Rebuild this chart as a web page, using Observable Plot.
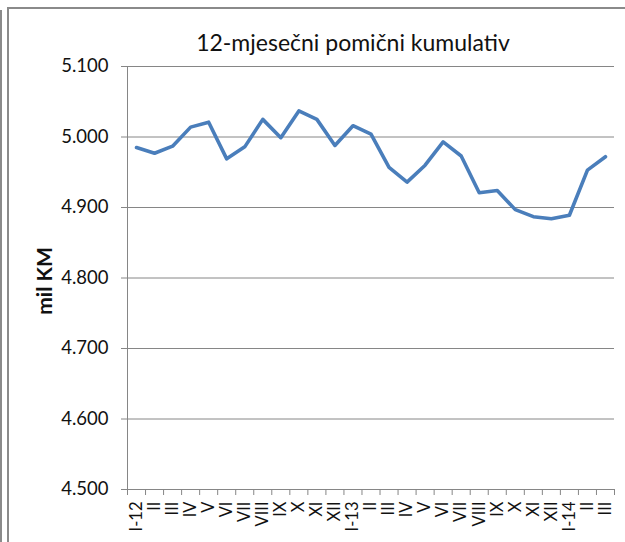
<!DOCTYPE html>
<html><head><meta charset="utf-8">
<script src="https://cdn.jsdelivr.net/npm/d3@7"></script>
<script src="https://cdn.jsdelivr.net/npm/@observablehq/plot@0.6"></script>
<style>
body{margin:0;background:#fff;}
#wrap{position:relative;width:625px;height:542px;overflow:hidden;background:#fff;}
.lineA{position:absolute;left:0;top:10px;width:0;height:540px;border-left:2px solid #8a8a8a;}
.lineB{position:absolute;left:7px;top:7px;width:700px;height:600px;border-left:2px solid #8a8a8a;border-top:2px solid #8a8a8a;}
#chart{position:absolute;left:0;top:0;}
#title{position:absolute;left:0;width:706px;top:30px;text-align:center;font-family:Lato,"Liberation Sans",sans-serif;font-size:23px;line-height:24px;color:#111;}
#ylabel{position:absolute;left:43px;top:281px;transform:translate(-50%,-50%) rotate(-90deg);white-space:nowrap;font-family:Lato,"Liberation Sans",sans-serif;font-weight:bold;font-size:21px;line-height:21px;color:#111;}
</style></head><body>
<div id="wrap"><div class="lineA"></div><div class="lineB"></div><div id="chart"></div><div id="title"></div><div id="ylabel"></div></div>
<script>
const title = "12-mjesečni pomični kumulativ";
const yLabel = "mil KM";
const months = ["I-12","II","III","IV","V","VI","VII","VIII","IX","X","XI","XII",
                "I-13","II","III","IV","V","VI","VII","VIII","IX","X","XI","XII",
                "I-14","II","III"];
const values = [4.985,4.977,4.987,5.014,5.021,4.969,4.986,5.025,4.999,5.037,5.025,4.988,
                5.016,5.004,4.957,4.936,4.960,4.993,4.973,4.921,4.924,4.897,4.887,4.884,
                4.889,4.953,4.972];
const yTicks = [4.5,4.6,4.7,4.8,4.9,5.0,5.1];

document.getElementById("title").textContent = title;
document.getElementById("ylabel").textContent = yLabel;

const idx = months.map((m, i) => i);
const bounds = months.map((m, i) => i - 0.5).concat([months.length - 0.5]);
const gray = "#868686";

const chart = Plot.plot({
  width: 625,
  height: 542,
  marginLeft: 127,
  marginRight: 11,
  marginTop: 66,
  marginBottom: 53,
  style: {fontFamily: "Lato, 'Liberation Sans', sans-serif", background: "transparent", color: "#111"},
  x: {type: "linear", domain: [-0.5, months.length - 0.5]},
  y: {domain: [4.5, 5.1]},
  marks: [
    Plot.gridY(yTicks, {stroke: gray, strokeOpacity: 1, strokeWidth: 1}),
    Plot.ruleX([-0.5], {stroke: gray, strokeWidth: 1}),
    Plot.axisY(yTicks, {tickFormat: d3.format(".3f"), tickSize: 6, tickPadding: 13, stroke: gray, fill: "#111", fontSize: 18.5, label: null}),
    Plot.axisX(bounds, {tickFormat: () => "", tickSize: 6, stroke: gray, label: null}),
    Plot.axisX(idx, {tickFormat: i => months[i], tickSize: 0, tickPadding: 12, tickRotate: -90, fill: "#111", fontSize: 16.5, label: null}),
    Plot.lineY(values, {x: (d, i) => i, y: d => d, stroke: "#4A7EBB", strokeWidth: 3.6, strokeLinejoin: "round"})
  ]
});
document.getElementById("chart").appendChild(chart);
</script>
</body></html>
